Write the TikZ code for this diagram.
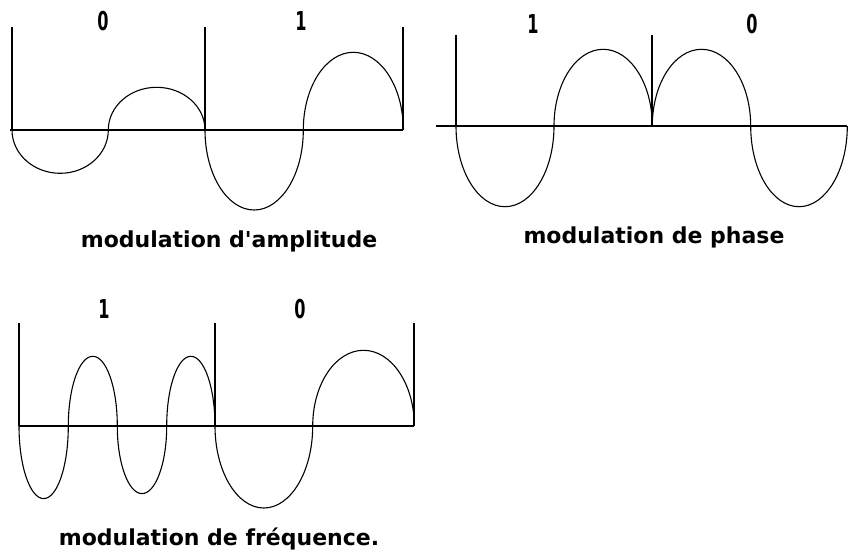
\documentclass[tikz,border=0pt]{standalone}
\usepackage{graphicx}
\usepackage{fontspec}
\setmainfont{DejaVu Sans}
\usetikzlibrary{positioning}

\tikzset{
  wave/.style={line width=1.1pt},
  axisline/.style={line width=1.1pt},
  bitlabel/.style={font=\fontsize{26}{26}\selectfont\bfseries, anchor=base, inner sep=0pt},
  caption/.style={font=\fontsize{22}{22}\selectfont\bfseries, anchor=base, inner sep=0pt}
}
\newcommand{\bitdigit}[1]{\scalebox{0.62}[1]{#1}}

\begin{document}
\begin{tikzpicture}[x=1pt, y=1pt]
\useasboundingbox (0,0) rectangle (848,555);

% =================== modulation d'amplitude ===================
\begin{scope}[shift={(0,425)}]
\draw[axisline] (10,0) -- (403,0);
\foreach \i/\x in {0/12, 1/205, 2/403}{
  \coordinate (A\i) at (\x,0);
  \draw[axisline] (A\i) -- ++(0,103);
}
% half waves: start / end / height / end angle (0 = up, 360 = down)
\foreach \a/\b/\h/\e in {12/108.3/43.3/360, 108.3/205/42.7/0, 205/303.3/80/360, 303.3/403.3/77.7/0}{
  \draw[wave] (\a,0) arc[start angle=180, end angle=\e, x radius={(\b-\a)/2*1pt}, y radius={\h*1pt}];
}
\node[bitlabel] (a0) at (103,99) {\bitdigit{0}};
\node[bitlabel] (a1) at (301,99) {\bitdigit{1}};
\node[caption] (acap) at (229,-117) {modulation d\textquotesingle amplitude};
\end{scope}

% =================== modulation de phase ===================
\begin{scope}[shift={(0,429)}]
\draw[axisline] (436,0) -- (847,0);
\foreach \i/\x in {0/456, 1/652}{
  \coordinate (P\i) at (\x,0);
  \draw[axisline] (P\i) -- ++(0,91);
}
\foreach \a/\b/\h/\e in {456/554/80.7/360, 554/652.3/76.7/0, 652.3/750.7/76.7/0, 750.7/847.3/80.7/360}{
  \draw[wave] (\a,0) arc[start angle=180, end angle=\e, x radius={(\b-\a)/2*1pt}, y radius={\h*1pt}];
}
\node[bitlabel] (p1) at (533,92) {\bitdigit{1}};
\node[bitlabel] (p0) at (752,92) {\bitdigit{0}};
\node[caption] (pcap) at (654,-117) {modulation de phase};
\end{scope}

% =================== modulation de fréquence ===================
\begin{scope}[shift={(0,129)}]
\draw[axisline] (19,0) -- (414,0);
\foreach \i/\x in {0/19, 1/215, 2/414}{
  \coordinate (F\i) at (\x,0);
  \draw[axisline] (F\i) -- ++(0,103);
}
\foreach \a/\b/\h/\e in {19/68.3/72.6/360, 68.3/117.3/69.7/0, 117.3/166.7/67.6/360,
                         166.7/215/69.7/0, 215/312.7/82/360, 312.7/414.3/75.7/0}{
  \draw[wave] (\a,0) arc[start angle=180, end angle=\e, x radius={(\b-\a)/2*1pt}, y radius={\h*1pt}];
}
\node[bitlabel] (f1) at (104,108) {\bitdigit{1}};
\node[bitlabel] (f0) at (300,108) {\bitdigit{0}};
\node[caption] (fcap) at (219,-119) {modulation de fréquence.};
\end{scope}

\end{tikzpicture}
\end{document}
